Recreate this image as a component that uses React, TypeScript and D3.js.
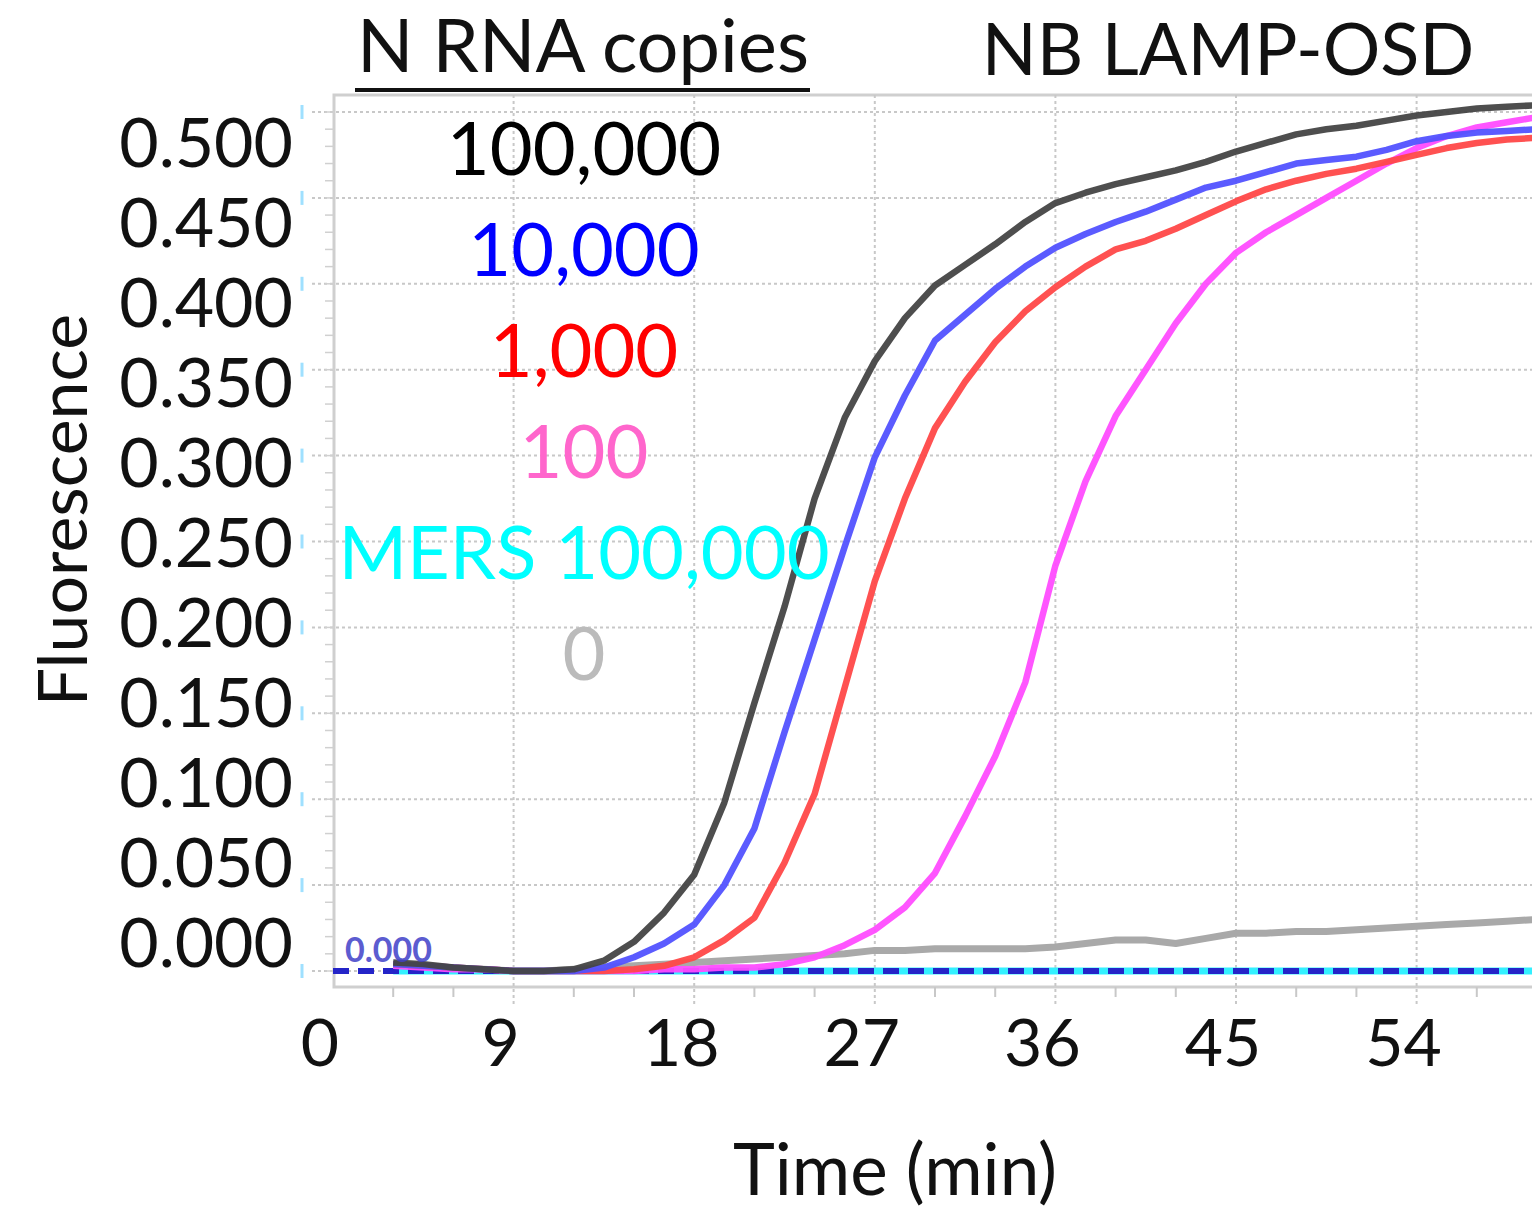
import React from "react";
import * as d3 from "d3";

const times = [3, 4.5, 6, 7.5, 9, 10.5, 12, 13.5, 15, 16.5, 18, 19.5, 21, 22.5, 24, 25.5, 27, 28.5, 30, 31.5, 33, 34.5, 36, 37.5, 39, 40.5, 42, 43.5, 45, 46.5, 48, 49.5, 51, 52.5, 54, 55.5, 57, 58.5, 60];

const copies100000 = [0.005, 0.004, 0.002, 0.001, 0.000, 0.000, 0.001, 0.006, 0.017, 0.034, 0.056, 0.098, 0.156, 0.212, 0.275, 0.322, 0.355, 0.380, 0.399, 0.411, 0.423, 0.436, 0.447, 0.453, 0.458, 0.462, 0.466, 0.471, 0.477, 0.482, 0.487, 0.490, 0.492, 0.495, 0.498, 0.500, 0.502, 0.503, 0.504];
const copies10000 = [0.004, 0.003, 0.002, 0.001, 0.000, 0.000, 0.000, 0.002, 0.008, 0.016, 0.027, 0.050, 0.083, 0.139, 0.193, 0.247, 0.299, 0.335, 0.367, 0.382, 0.397, 0.410, 0.421, 0.429, 0.436, 0.442, 0.449, 0.456, 0.460, 0.465, 0.470, 0.472, 0.474, 0.478, 0.483, 0.486, 0.488, 0.489, 0.490];
const copies1000 = [0.004, 0.003, 0.002, 0.001, 0.000, 0.000, 0.000, 0.000, 0.001, 0.003, 0.008, 0.018, 0.031, 0.063, 0.103, 0.165, 0.227, 0.275, 0.316, 0.343, 0.366, 0.384, 0.398, 0.410, 0.420, 0.425, 0.432, 0.440, 0.448, 0.455, 0.460, 0.464, 0.467, 0.471, 0.475, 0.479, 0.482, 0.484, 0.485];
const copies100 = [0.003, 0.002, 0.001, 0.001, 0.000, 0.000, 0.000, 0.000, 0.000, 0.001, 0.001, 0.002, 0.002, 0.004, 0.008, 0.015, 0.024, 0.037, 0.057, 0.090, 0.125, 0.168, 0.236, 0.285, 0.323, 0.350, 0.377, 0.400, 0.418, 0.430, 0.440, 0.450, 0.460, 0.470, 0.479, 0.486, 0.491, 0.494, 0.497];
const mers100000 = [0, 0, 0, 0, 0, 0, 0, 0, 0, 0, 0, 0, 0, 0, 0, 0, 0, 0, 0, 0, 0, 0, 0, 0, 0, 0, 0, 0, 0, 0, 0, 0, 0, 0, 0, 0, 0, 0, 0];
const copies0 = [0.003, 0.002, 0.001, 0.001, 0.000, 0.000, 0.001, 0.002, 0.003, 0.004, 0.005, 0.006, 0.007, 0.008, 0.009, 0.010, 0.012, 0.012, 0.013, 0.013, 0.013, 0.013, 0.014, 0.016, 0.018, 0.018, 0.016, 0.019, 0.022, 0.022, 0.023, 0.023, 0.024, 0.025, 0.026, 0.027, 0.028, 0.029, 0.030];

const legendLabels = ["100,000", "10,000", "1,000", "100", "MERS 100,000", "0"];
const legendColors = ["#000000", "#0000ff", "#ff0000", "#ff66cc", "#00ffff", "#bbbbbb"];

const yTicks = [0, 0.05, 0.1, 0.15, 0.2, 0.25, 0.3, 0.35, 0.4, 0.45, 0.5];
const xTicks = [0, 9, 18, 27, 36, 45, 54];
const xMinorTicks = [3, 6, 12, 15, 21, 24, 30, 33, 39, 42, 48, 51, 57];
const yMinorTicks = d3.range(0, 51).map((d) => d / 100);

const titleLeft = "N RNA copies";
const titleRight = "NB LAMP-OSD";
const yTitle = "Fluorescence";
const xTitle = "Time (min)";
const thresholdLabel = "0.000";

const W = 1532;
const H = 1211;
const FONT = "Lato, 'Open Sans', sans-serif";

export default function App() {
  const x = d3.scaleLinear().domain([0, 60]).range([333, 1537]);
  const y = d3.scaleLinear().domain([0, 0.5]).range([971, 112]);
  const yLabel = d3.scaleLinear().domain([0, 0.5]).range([940, 140]);
  const legendY = d3.scaleLinear().domain([0, 5]).range([175, 680]);

  const line = d3
    .line<number>()
    .x((_, i) => x(times[i]))
    .y((d) => y(d));

  const plotLeft = 334;
  const plotTop = 95;
  const plotBottom = 987;

  const series = [
    { data: copies0, color: "#a9a9a9" },
    { data: mers100000, color: "#33f0ff" },
    { data: copies100, color: "#ff4cff" },
    { data: copies1000, color: "#ff4848" },
    { data: copies10000, color: "#5252ff" },
    { data: copies100000, color: "#444444" },
  ];

  return (
    <svg
      width={W}
      height={H}
      style={{ position: "absolute", left: 0, top: 0, background: "#fff" }}
      fontFamily={FONT}
    >
      <rect x={0} y={0} width={W} height={H} fill="#fff" />
      <rect
        x={plotLeft}
        y={plotTop}
        width={W + 10 - plotLeft}
        height={plotBottom - plotTop}
        fill="#fff"
        stroke="#cfcfcf"
        strokeWidth={3}
      />
      {yTicks.map((t) => (
        <g key={"hg" + t}>
          <line
            x1={312}
            x2={W}
            y1={y(t)}
            y2={y(t)}
            stroke="#c8c8c8"
            strokeWidth={2}
            strokeDasharray="3,3"
          />
          <line x1={302} x2={302} y1={y(t) - 7} y2={y(t) + 7} stroke="#9fe0ff" strokeWidth={3} />
        </g>
      ))}
      {yMinorTicks.map((t) => (
        <line key={"ym" + t} x1={325} x2={334} y1={y(t)} y2={y(t)} stroke="#d0d0d0" strokeWidth={1.5} />
      ))}
      {xTicks.filter((t) => t > 0).map((t) => (
        <line
          key={"vg" + t}
          x1={x(t)}
          x2={x(t)}
          y1={plotTop}
          y2={1005}
          stroke="#c8c8c8"
          strokeWidth={2}
          strokeDasharray="3,3"
        />
      ))}
      {xMinorTicks.map((t) => (
        <line key={"xm" + t} x1={x(t)} x2={x(t)} y1={plotBottom} y2={997} stroke="#c8c8c8" strokeWidth={2} />
      ))}

      {series.slice(0, 2).map((s, i) => (
        <path key={"s" + i} d={line(s.data) || ""} fill="none" stroke={s.color} strokeWidth={7} strokeLinejoin="round" />
      ))}
      <line
        x1={x(0)}
        x2={W}
        y1={y(0)}
        y2={y(0)}
        stroke="#2424c8"
        strokeWidth={6}
        strokeDasharray="16,9"
      />
      {series.slice(2).map((s, i) => (
        <path key={"t" + i} d={line(s.data) || ""} fill="none" stroke={s.color} strokeWidth={6.5} strokeLinejoin="round" opacity={0.95} />
      ))}
      <text x={345} y={962} fontSize={34} fontWeight={700} fill="#4040c8" opacity={0.85}>
        {thresholdLabel}
      </text>

      {yTicks.map((t) => (
        <text
          key={"yl" + t}
          x={293}
          y={yLabel(t)}
          textAnchor="end"
          dominantBaseline="central"
          fontSize={68}
          fill="#111"
        >
          {t.toFixed(3)}
        </text>
      ))}
      {xTicks.map((t) => (
        <text key={"xl" + t} x={x(t) - 13} y={1066} textAnchor="middle" fontSize={66} fill="#111">
          {t}
        </text>
      ))}

      <text
        transform={`translate(87,510) rotate(-90)`}
        textAnchor="middle"
        fontSize={68}
        fill="#111"
      >
        {yTitle}
      </text>
      <text x={895} y={1195} textAnchor="middle" fontSize={71} fill="#111">
        {xTitle}
      </text>

      <text x={583} y={72} textAnchor="middle" fontSize={74} fill="#111">
        {titleLeft}
      </text>
      <line x1={355} x2={810} y1={90} y2={90} stroke="#111" strokeWidth={4} />
      <text x={1228} y={75} textAnchor="middle" fontSize={72} fill="#111">
        {titleRight}
      </text>

      {legendLabels.map((l, i) => (
        <text key={"lg" + i} x={584} y={legendY(i)} textAnchor="middle" fontSize={74} fill={legendColors[i]}>
          {l}
        </text>
      ))}
    </svg>
  );
}
